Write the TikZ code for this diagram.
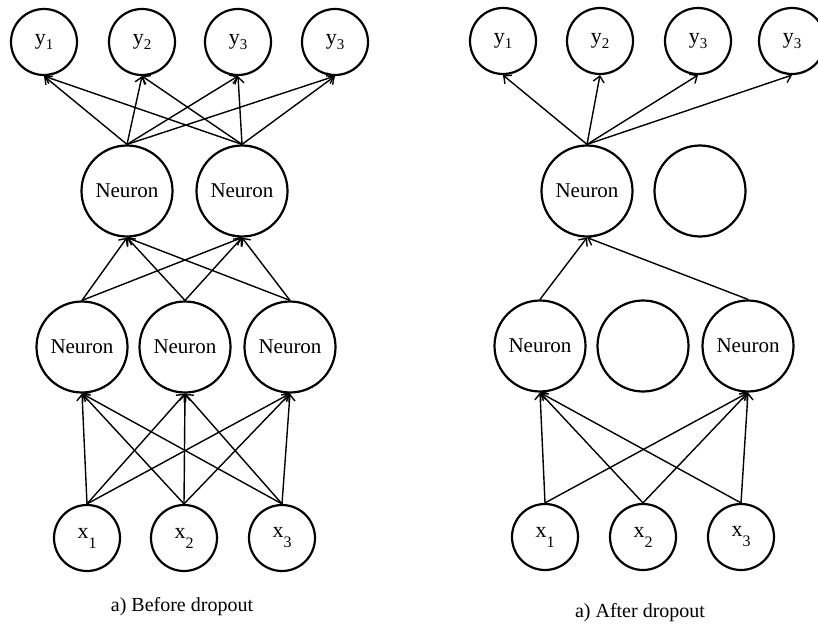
\documentclass[tikz,border=0pt]{standalone}
\usepackage{fontspec}
\setmainfont{Liberation Serif}
\usetikzlibrary{arrows.meta}
\newcommand{\ylab}[1]{y\raisebox{-5pt}{\fontsize{15}{15}\selectfont #1}}
\newcommand{\xlab}[1]{x\raisebox{-10pt}{\fontsize{16}{16}\selectfont #1}}
\begin{document}
\begin{tikzpicture}[x=1pt,y=-1pt,
  io/.style={circle,draw,line width=2.2pt,minimum size=66pt,inner sep=0pt,font=\fontsize{22}{22}\selectfont},
  neuron/.style={circle,draw,line width=2.2pt,minimum size=91pt,inner sep=0pt,font=\fontsize{21}{21}\selectfont},
  conn/.style={line width=1.4pt,-{Straight Barb[length=6pt,width=11pt,line width=1.4pt]}},
  caption/.style={font=\fontsize{20}{20}\selectfont}]
\useasboundingbox (0,0) rectangle (818,628);
% ---------- left: before dropout ----------
\node[io] (ly1) at (44,42) {\ylab{1}};
\node[io] (ly2) at (142,42) {\ylab{2}};
\node[io] (ly3) at (238,42) {\ylab{3}};
\node[io] (ly4) at (335,42) {\ylab{3}};
\node[neuron] (lb1) at (127,191) {Neuron};
\node[neuron] (lb2) at (242,191) {Neuron};
\node[neuron] (la1) at (82,347) {Neuron};
\node[neuron] (la2) at (185,347) {Neuron};
\node[neuron] (la3) at (290,347) {Neuron};
\node[io] (lx1) at (87,538) {\xlab{1}};
\node[io] (lx2) at (184,538) {\xlab{2}};
\node[io] (lx3) at (282,538) {\xlab{3}};
\foreach \b in {lb1,lb2}{
  \foreach \y in {ly1,ly2,ly3,ly4}{
    \draw[conn] (\b.north) -- (\y.south);
  }
}
\foreach \a in {la1,la2,la3}{
  \foreach \b in {lb1,lb2}{
    \draw[conn] (\a.north) -- (\b.south);
  }
}
\foreach \x in {lx1,lx2,lx3}{
  \foreach \a in {la1,la2,la3}{
    \draw[conn] (\x.north) -- (\a.south);
  }
}
\node[caption] (lcap) at (182,607) {a) Before dropout};
% ---------- right: after dropout ----------
\node[io] (ry1) at (503,41) {\ylab{1}};
\node[io] (ry2) at (600,41) {\ylab{2}};
\node[io] (ry3) at (698,41) {\ylab{3}};
\node[io] (ry4) at (792,41) {\ylab{3}};
\node[neuron] (rb1) at (587,191) {Neuron};
\node[neuron] (rb2) at (700,191) {};
\node[neuron] (ra1) at (540,346) {Neuron};
\node[neuron] (ra2) at (643,346) {};
\node[neuron] (ra3) at (748,346) {Neuron};
\node[io] (rx1) at (545,537) {\xlab{1}};
\node[io] (rx2) at (643,537) {\xlab{2}};
\node[io] (rx3) at (741,537) {\xlab{3}};
\foreach \y in {ry1,ry2,ry3,ry4}{
  \draw[conn] (rb1.north) -- (\y.south);
}
\foreach \a in {ra1,ra3}{
  \draw[conn] (\a.north) -- (rb1.south);
}
\foreach \x in {rx1,rx2,rx3}{
  \foreach \a in {ra1,ra3}{
    \draw[conn] (\x.north) -- (\a.south);
  }
}
\node[caption] (rcap) at (640,613) {a) After dropout};
\end{tikzpicture}
\end{document}
